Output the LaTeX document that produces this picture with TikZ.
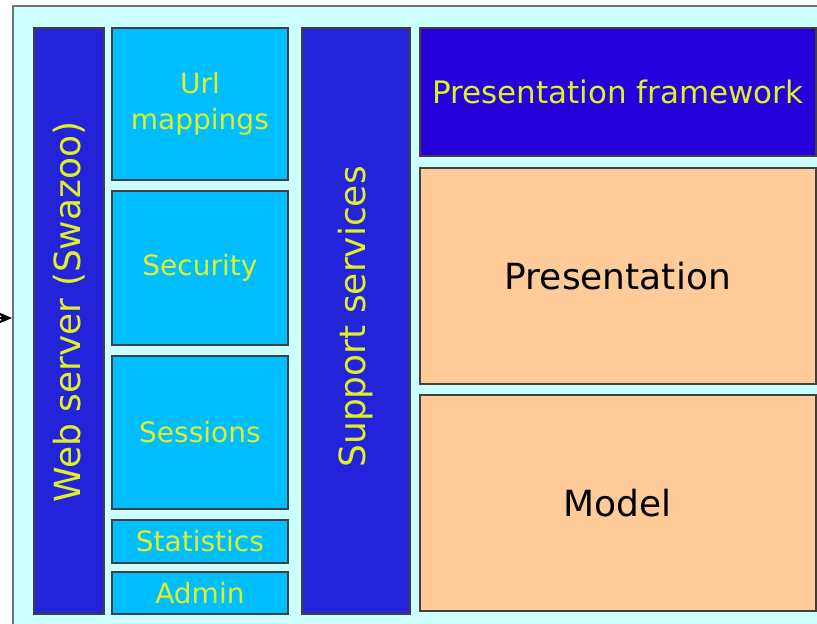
\documentclass[tikz,border=0pt]{standalone}
\usepackage{fontspec}
\setmainfont{DejaVu Sans}
\usetikzlibrary{arrows.meta}
\definecolor{hintergrund}{RGB}{204,255,255}
\definecolor{serverblau}{RGB}{35,35,218}
\definecolor{frameworkblau}{RGB}{36,0,218}
\definecolor{modulblau}{RGB}{0,190,255}
\definecolor{schichtorange}{RGB}{255,204,153}
\definecolor{schriftgelb}{RGB}{222,240,40}
\begin{document}
\begin{tikzpicture}[x=1pt, y=-1pt,
	kasten/.style={draw=black!75, line width=1.8pt, anchor=north west, inner sep=0pt, align=center},
	modul/.style={kasten, fill=modulblau, minimum width=176, text=schriftgelb, font=\fontsize{28}{36}\selectfont},
	saeule/.style={kasten, fill=serverblau, minimum height=586},
	schicht/.style={kasten, fill=schichtorange, minimum width=396, minimum height=216, font=\fontsize{36}{42}\selectfont},
	senkrecht/.style={rotate=90, text=schriftgelb, font=\fontsize{36}{40}\selectfont}]
\useasboundingbox (0,0) rectangle (817,624);
\clip (0,0) rectangle (817,624);

% Rahmen
\node[kasten, draw=black!55, line width=2pt, fill=hintergrund, minimum width=830, minimum height=640] (rahmen) at (12,5) {};

% Webserver
\node[saeule, minimum width=70] (server) at (33,27) {};
\node[senkrecht] (servertext) at ([yshift=9pt]server.center) {Web server (Swazoo)};

% Module
\node[modul, minimum height=152] (url) at (111,27) {Url\\mappings};
\node[modul, minimum height=154] (security) at (111,190) {Security};
\node[modul, minimum height=153] (sessions) at (111,355) {Sessions};
\node[modul, minimum height=43] (statistics) at (111,519) {Statistics};
\node[modul, minimum height=42] (admin) at (111,571) {Admin};

% Support services
\node[saeule, minimum width=108] (support) at (301,27) {};
\node[senkrecht] (supporttext) at ([yshift=4pt]support.center) {Support services};

% Schichten
\node[kasten, fill=frameworkblau, minimum width=396, minimum height=128, text=schriftgelb, font=\fontsize{31}{36}\selectfont] (framework) at (419,27) {Presentation framework};
\node[schicht] (presentation) at (419,167) {Presentation};
\node[schicht] (model) at (419,394) {Model};

% Eingang
\coordinate (eingang) at (-40,318);
\draw[-{Stealth[length=14pt, width=12pt]}, line width=1.5pt] (eingang) -- (eingang -| rahmen.west);
\end{tikzpicture}
\end{document}
